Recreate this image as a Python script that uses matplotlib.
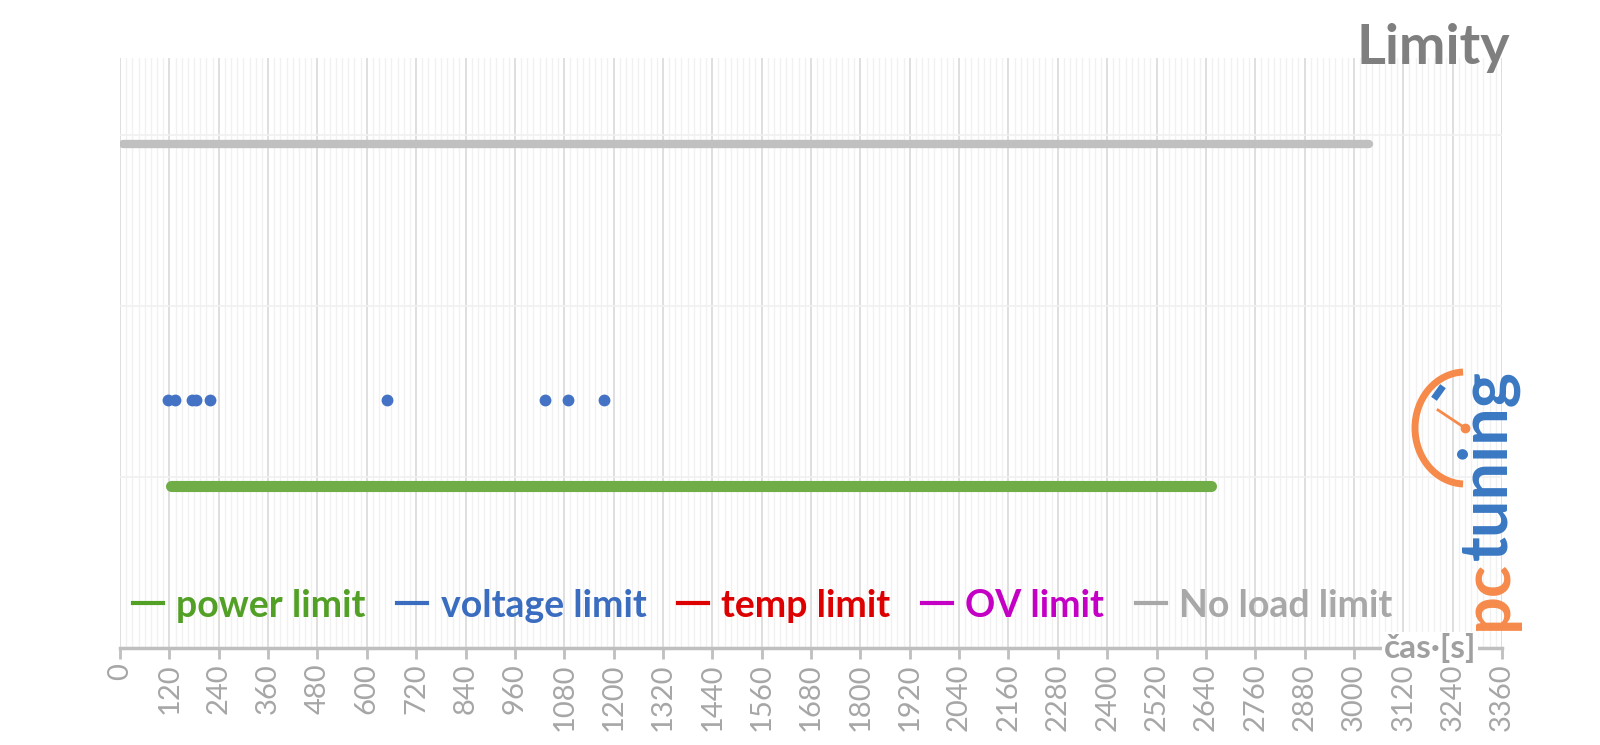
import numpy as np
import matplotlib
matplotlib.use("Agg")
import matplotlib.pyplot as plt
from matplotlib.lines import Line2D
from matplotlib.patches import Arc

# series: time segments [s] in which the limit was active, and its plotted level
power_segments = [(124, 588), (592, 667), (671, 2652)]
power_level = 0.95
voltage_times = [117, 134, 175, 185, 219, 649, 1033, 1089, 1177]
voltage_level = 1.45
noload_segments = [(7, 1238), (1242, 1617), (1621, 1914), (1918, 2118),
                   (2122, 2286), (2290, 2429), (2433, 2526), (2530, 2587),
                   (2591, 2643), (2647, 3036)]
noload_level = 2.95

labels = ["power limit", "voltage limit", "temp limit", "OV limit", "No load limit"]
colors = ["#53a026", "#3a6cc0", "#dd0000", "#c400c4", "#a8a8a8"]
xticks = list(range(0, 3361, 120))

plt.rcParams['font.family'] = ['Lato', 'DejaVu Sans']

fig = plt.figure(figsize=(16, 7.45), dpi=100)
ax = fig.add_axes([120 / 1600, 1 - 648 / 745, 1382 / 1600, 590 / 745])

# grid
ax.set_xticks(np.arange(0, 3361, 15), minor=True)
ax.grid(which='minor', axis='x', color='#f1f1f1', lw=1)
ax.grid(which='major', axis='x', color='#dcdcdc', lw=1.3)
ax.set_yticks([0, 1, 2, 3])
ax.grid(which='major', axis='y', color='#f0f0f0', lw=1.2)
ax.set_axisbelow(True)

for a, b in noload_segments:
    ax.plot([a, b], [noload_level, noload_level], color='#c0c0c0', lw=6,
            solid_capstyle='round')
for a, b in power_segments:
    ax.plot([a, b], [power_level, power_level], color='#70ad47', lw=8,
            solid_capstyle='round')
ax.plot(voltage_times, [voltage_level] * len(voltage_times), 'o',
        color='#4472c4', ms=7.5, ls='none')

ax.set_xlim(0, 3360)
ax.set_ylim(0, 3.45)
ax.set_xticks(xticks)
ax.set_xticklabels([str(t) for t in xticks], rotation=90, fontsize=21,
                   color='#a6a6a6')
ax.tick_params(axis='x', which='major', length=8, width=2, color='#bfbfbf', pad=3)
ax.tick_params(axis='x', which='minor', length=0)
ax.tick_params(axis='y', left=False, labelleft=False)
for s in ['top', 'right', 'left']:
    ax.spines[s].set_visible(False)
ax.spines['bottom'].set_color('#bfbfbf')
ax.spines['bottom'].set_linewidth(2.5)

# legend
handles = [Line2D([0], [0], color=c, lw=3) for c in colors]
leg = ax.legend(handles, labels, loc='center left', bbox_to_anchor=(-0.015, 0.072),
                ncol=5, frameon=False, handlelength=0.8, handletextpad=0.35,
                columnspacing=0.85, prop={'size': 27, 'weight': 'bold'})
for txt, c in zip(leg.get_texts(), colors):
    txt.set_color(c)

# axis title on the right end of the axis
ax.text(3185, 0.0, "čas·[s]", ha='center', va='center', fontsize=24,
        fontweight='bold', color='#a0a0a0',
        bbox=dict(facecolor='white', edgecolor='none', pad=1))

fig.text(1510 / 1600, 1 - 48 / 745, "Limity", ha='right', va='center',
         fontsize=40, fontweight='bold', color='#7f7f7f')

# pctuning logo
lg = fig.add_axes([1400 / 1600, 1 - 640 / 745, 125 / 1600, 300 / 745])
lg.set_xlim(0, 125)
lg.set_ylim(0, 300)
lg.axis('off')
lg.text(88, 80, "tuning", rotation=90, ha='center', va='bottom',
        fontsize=48, color='#3a78c3', fontweight='bold')
lg.text(88, 80, "pc", rotation=90, ha='center', va='top',
        fontsize=48, color='#f58a4b', fontweight='bold')
lg.add_patch(Arc((65, 212), 100, 112, theta1=92, theta2=268,
                 color='#f58a4b', lw=5))
lg.plot([65, 38], [212, 230], color='#f58a4b', lw=2)
lg.plot([65], [212], 'o', color='#f58a4b', ms=6)
lg.plot([36, 41], [244, 251], color='#3a78c3', lw=5)

fig.savefig("out.png", dpi=100)
